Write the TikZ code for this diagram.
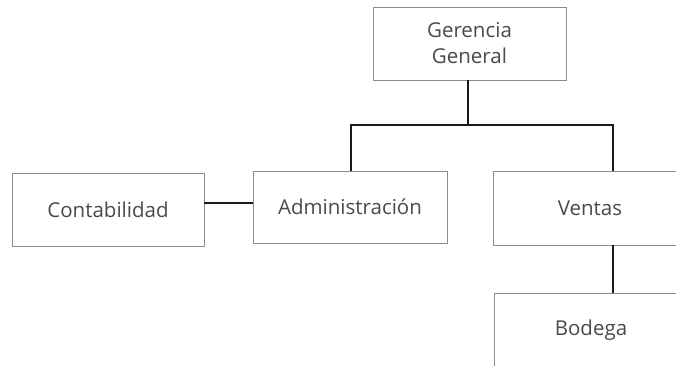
\documentclass[tikz,border=0pt]{standalone}
\usepackage{fontspec}
\setmainfont{Open Sans}
\definecolor{boxline}{HTML}{8C8C8C}
\definecolor{txt}{HTML}{4A4A4A}
\definecolor{conn}{HTML}{1A1A1A}
\tikzset{
  unit/.style={draw=boxline, line width=0.9pt, fill=white, text=txt,
    font=\fontsize{20.5}{26}\selectfont, align=center, inner sep=0pt},
  link/.style={draw=conn, line width=2pt}
}
\begin{document}
\begin{tikzpicture}[x=1pt,y=-1pt]
\useasboundingbox (0,0) rectangle (676,365);
\clip (0,0) rectangle (676,365);
\node[unit, minimum width=193pt, minimum height=73pt] (ger) at (469.5,43.5) {Gerencia\\General};
\node[unit, minimum width=192pt, minimum height=73pt] (con) at (108,209.5) {Contabilidad};
\node[unit, minimum width=194pt, minimum height=72pt] (adm) at (350,207) {Administración};
\node[unit, minimum width=194pt, minimum height=74pt] (ven) at (590,208) {Ventas};
\node[unit, minimum width=194pt, minimum height=74pt] (bod) at (591,330) {Bodega};
\coordinate (jl) at (351,125);
\coordinate (jr) at (613,125);
\coordinate (jm) at (468,125);
\coordinate (cy) at (0,203);
\draw[link] (ger.south -| jm) -- (jm);
\draw[link] (adm.north -| jl) -- (jl) -- (jr) -- (ven.north -| jr);
\draw[link] (ven.south -| jr) -- (bod.north -| jr);
\draw[link] (con.east |- cy) -- (adm.west |- cy);
\end{tikzpicture}
\end{document}
